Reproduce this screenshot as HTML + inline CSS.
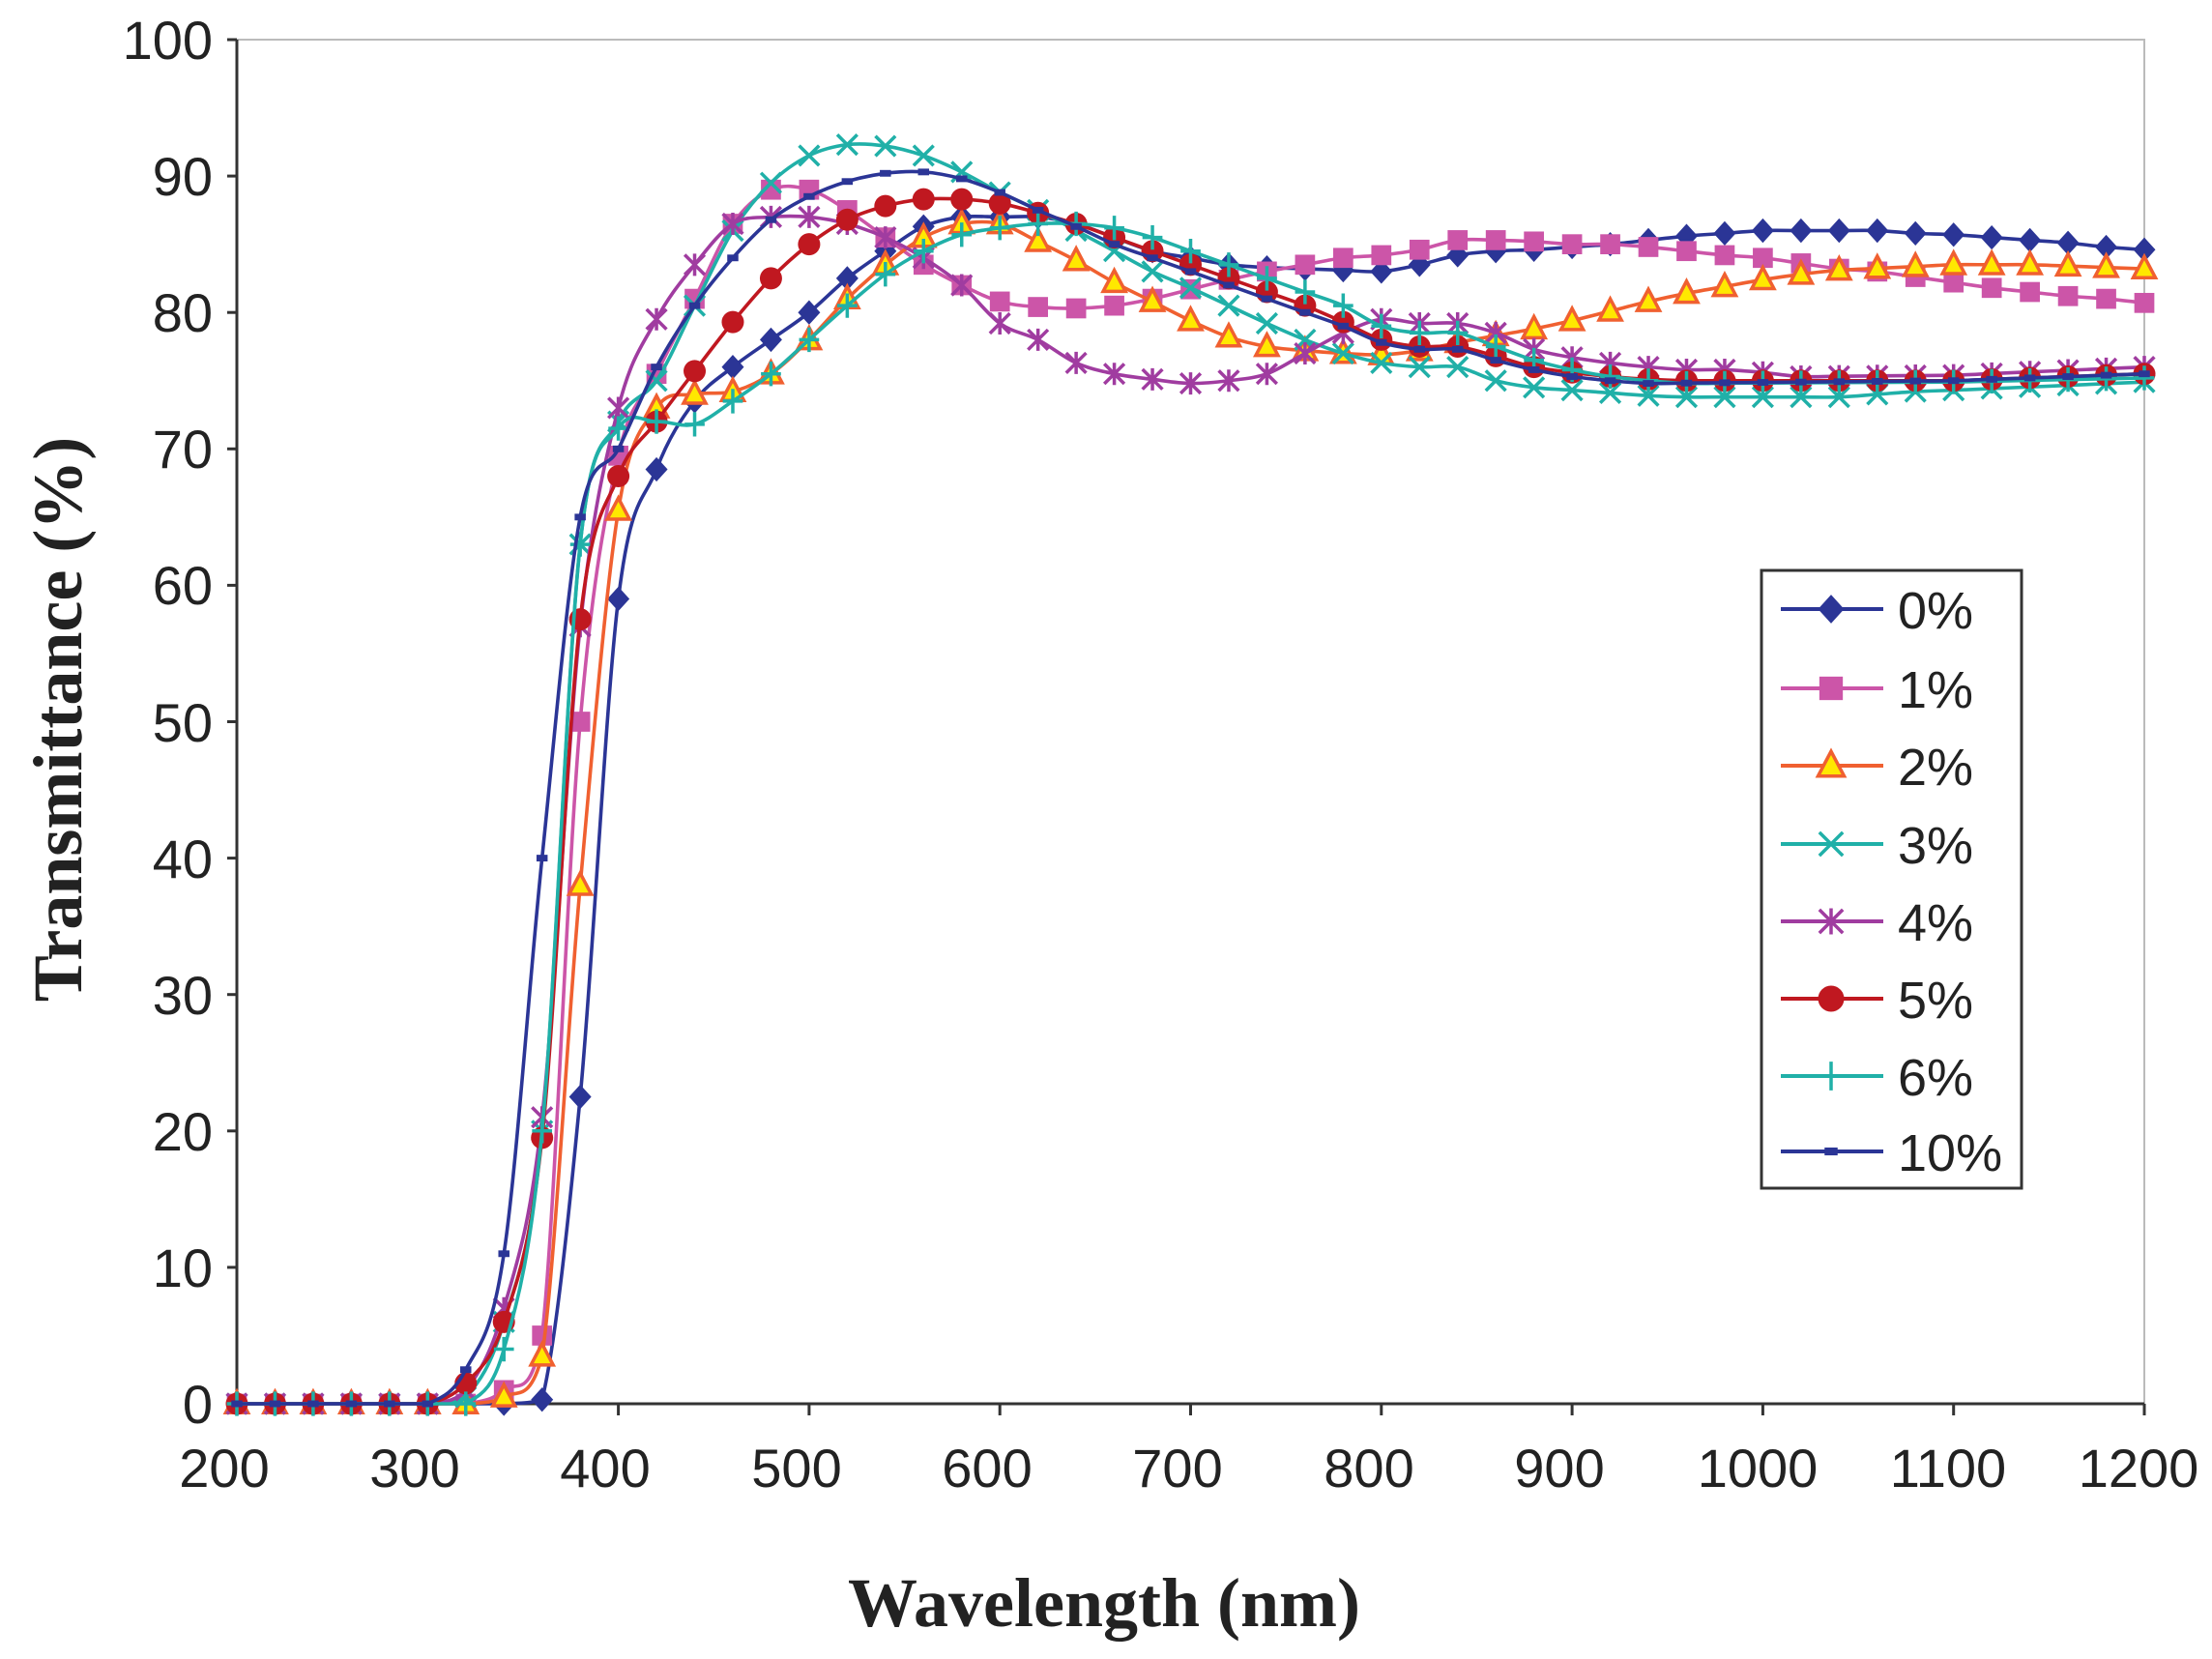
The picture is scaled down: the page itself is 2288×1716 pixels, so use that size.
<!DOCTYPE html>
<html><head><meta charset="utf-8"><style>
html,body{margin:0;padding:0;background:#fff;}
svg{display:block;}
.t{font-family:"Liberation Sans",sans-serif;font-size:56px;fill:#222;}
.ti{font-family:"Liberation Serif",serif;font-weight:bold;font-size:72px;fill:#222;}
</style></head><body>
<svg id="s" width="2288" height="1716" viewBox="0 0 2288 1716" xmlns="http://www.w3.org/2000/svg">
<rect x="0" y="0" width="2288" height="1716" fill="#fff"/>
<rect x="245" y="41" width="1973" height="1411" fill="none" stroke="#bbb" stroke-width="2"/>
<line x1="245" y1="41" x2="245" y2="1452" stroke="#333" stroke-width="3"/>
<line x1="245" y1="1452" x2="2218" y2="1452" stroke="#333" stroke-width="3"/>
<g id="ticks"></g>
<g class="t" text-anchor="end">
<text x="220" y="1472">0</text><text x="220" y="1331">10</text><text x="220" y="1190">20</text><text x="220" y="1049">30</text><text x="220" y="908">40</text><text x="220" y="767">50</text><text x="220" y="625">60</text><text x="220" y="484">70</text><text x="220" y="343">80</text><text x="220" y="202">90</text><text x="220" y="61">100</text>
</g>
<g class="t" text-anchor="middle">
<text x="232" y="1538">200</text><text x="429" y="1538">300</text><text x="626" y="1538">400</text><text x="824" y="1538">500</text><text x="1021" y="1538">600</text><text x="1218" y="1538">700</text><text x="1416" y="1538">800</text><text x="1613" y="1538">900</text><text x="1818" y="1538">1000</text><text x="2015" y="1538">1100</text><text x="2212" y="1538">1200</text>
</g>
<text class="ti" x="1142" y="1682" text-anchor="middle">Wavelength (nm)</text>
<text class="ti" x="84" y="744" text-anchor="middle" transform="rotate(-90 84 744)">Transmittance (%)</text>
<g id="series"></g>
<rect x="1822" y="590" width="269" height="639" fill="#fff" stroke="#333" stroke-width="3"/>
<g id="leg"></g>
<g class="t" style="font-size:54px">
<text x="1963" y="650">0%</text><text x="1963" y="732">1%</text><text x="1963" y="812">2%</text><text x="1963" y="893">3%</text><text x="1963" y="973">4%</text><text x="1963" y="1053">5%</text><text x="1963" y="1133">6%</text><text x="1963" y="1211">10%</text>
</g>
</svg>
<script>
const NS="http://www.w3.org/2000/svg";
const X=n=>245+(n-200)*1.973, Y=v=>1452-v*14.11;
function el(p,t,a){const e=document.createElementNS(NS,t);for(const k in a)e.setAttribute(k,a[k]);p.appendChild(e);return e;}
const tk=document.getElementById('ticks');
for(let v=0;v<=100;v+=10)el(tk,'line',{x1:235,x2:245,y1:Y(v),y2:Y(v),stroke:'#333','stroke-width':3});
for(let n=200;n<=1200;n+=100)el(tk,'line',{x1:X(n),x2:X(n),y1:1452,y2:1464,stroke:'#333','stroke-width':3});
function fill(k){const ks=Object.keys(k).map(Number).sort((a,b)=>a-b);const out=[];
for(let n=200;n<=1200;n+=20){let v;if(n<=ks[0])v=n<ks[0]?0:k[ks[0]];else if(n>=ks[ks.length-1])v=k[ks[ks.length-1]];
else{for(let i=0;i<ks.length-1;i++)if(n>=ks[i]&&n<=ks[i+1]){const t=(n-ks[i])/(ks[i+1]-ks[i]);v=k[ks[i]]*(1-t)+k[ks[i+1]]*t;break;}}
out.push([X(n),Y(v)]);}return out;}
const S=[
{c:'#2b3596',m:'dia',d:{300:0,320:0,340:0,360:0.3,380:22.5,400:59,420:68.5,440:73.5,460:76,480:78,500:80,520:82.5,540:84.5,560:86.3,580:87,600:87,620:87,640:86.5,660:85.5,680:84.5,700:84,720:83.5,740:83.3,760:83.2,780:83.1,800:83,820:83.5,840:84.2,860:84.5,880:84.6,900:84.8,920:85,940:85.3,960:85.6,980:85.8,1000:86,1060:86,1080:85.8,1100:85.7,1120:85.5,1140:85.3,1160:85.1,1180:84.8,1200:84.6}},
{c:'#cc55a8',m:'sq',d:{320:0,340:1,360:5,380:50,400:69.5,420:75.5,440:81,460:86.5,480:89,500:89,520:87.5,540:85.5,560:83.5,580:82,600:80.8,620:80.4,640:80.3,660:80.5,680:81,700:81.7,720:82.4,740:83,760:83.5,780:84,800:84.2,820:84.6,840:85.3,860:85.3,880:85.2,900:85,920:85,940:84.8,960:84.5,980:84.2,1000:84,1020:83.6,1040:83.2,1060:83,1080:82.6,1100:82.2,1120:81.8,1140:81.5,1160:81.2,1180:81,1200:80.7}},
{c:'#f06030',m:'tri',d:{320:0,340:0.5,360:3.5,380:38,400:65.5,420:73,440:74,460:74.2,480:75.5,500:78,520:81,540:83.5,560:85.5,580:86.5,600:86.5,620:85.2,640:83.8,660:82.2,680:80.8,700:79.4,720:78.2,740:77.5,760:77.2,780:77,800:76.9,820:77.2,840:77.8,860:78.3,880:78.8,900:79.4,920:80.1,940:80.8,960:81.4,980:81.9,1000:82.4,1020:82.8,1040:83.1,1100:83.5,1140:83.5,1200:83.2}},
{c:'#20b0a8',m:'x',d:{300:0,320:0.5,340:6,360:20,380:63,400:72,420:75,440:80.5,460:86,480:89.5,500:91.5,520:92.3,540:92.2,560:91.5,580:90.3,600:88.8,620:87.5,640:86,660:84.5,680:83,700:81.8,720:80.5,740:79.2,760:78,780:77,800:76.3,820:76,840:76,860:75,880:74.5,900:74.3,920:74.1,940:73.9,960:73.8,1040:73.8,1060:74,1080:74.2,1100:74.3,1200:74.9}},
{c:'#a03ca0',m:'star',d:{300:0,320:1,340:7,360:21,380:57,400:73,420:79.5,440:83.5,460:86.5,480:87,500:87,520:86.5,540:85.5,560:84,580:82,600:79.2,620:78,640:76.3,660:75.5,680:75.1,700:74.8,720:75,740:75.5,760:77,780:78.5,800:79.5,820:79.2,840:79.2,860:78.5,880:77.3,900:76.7,920:76.3,940:76,960:75.8,980:75.8,1000:75.6,1020:75.3,1100:75.4,1200:76}},
{c:'#c01820',m:'circ',d:{300:0,320:1.5,340:6,360:19.5,380:57.5,400:68,420:72,440:75.7,460:79.3,480:82.5,500:85,520:86.8,540:87.8,560:88.3,580:88.3,600:88,620:87.3,640:86.5,660:85.5,680:84.5,700:83.5,720:82.5,740:81.5,760:80.5,780:79.3,800:78,820:77.5,840:77.5,860:76.8,880:76,900:75.6,920:75.3,940:75.1,960:75,1100:75,1200:75.5}},
{c:'#20b0a8',m:'plus',d:{320:0,340:4,360:20,380:63,400:71.5,420:72,440:71.8,460:73.5,480:75.5,500:78,520:80.5,540:82.8,560:84.5,580:85.7,600:86.2,620:86.5,640:86.5,660:86.2,680:85.5,700:84.5,720:83.5,740:82.5,760:81.5,780:80.5,800:79,820:78.5,840:78.5,860:77.5,880:76.5,900:75.8,920:75.3,940:75,960:74.8,1100:74.9,1200:75.2}},
{c:'#2b3596',m:'dash',d:{300:0,320:2.5,340:11,360:40,380:65,400:70,420:76,440:80.5,460:84,480:86.8,500:88.5,520:89.6,540:90.2,560:90.3,580:89.8,600:88.8,620:87.5,640:86.3,660:85,680:84,700:83,720:82,740:81,760:80,780:79,800:77.8,820:77.3,840:77.3,860:76.5,880:75.8,900:75.3,920:75,940:74.8,1100:75,1200:75.5}}
];
const B=1452;
function path(p){let d=`M${p[0][0]},${p[0][1]}`;for(let i=0;i<p.length-1;i++){const a=p[Math.max(0,i-1)],b=p[i],c=p[i+1],e=p[Math.min(p.length-1,i+2)];
const y1=Math.min(B,b[1]+(c[1]-a[1])/6),y2=Math.min(B,c[1]-(e[1]-b[1])/6);
d+=` C${b[0]+(c[0]-a[0])/6},${y1} ${c[0]-(e[0]-b[0])/6},${y2} ${c[0]},${c[1]}`;}return d;}
function mark(g,m,x,y,c,s){s=s||1;
if(m=='dia')el(g,'polygon',{points:`${x},${y-11*s} ${x+10*s},${y} ${x},${y+11*s} ${x-10*s},${y}`,fill:c});
else if(m=='sq')el(g,'rect',{x:x-9*s,y:y-9*s,width:18*s,height:18*s,fill:c});
else if(m=='tri')el(g,'polygon',{points:`${x},${y-11*s} ${x+10*s},${y+8*s} ${x-10*s},${y+8*s}`,fill:'#ffe800',stroke:c,'stroke-width':3.5});
else if(m=='x'){el(g,'path',{d:`M${x-9*s},${y-9*s}L${x+9*s},${y+9*s}M${x+9*s},${y-9*s}L${x-9*s},${y+9*s}`,stroke:c,'stroke-width':3.5});}
else if(m=='star'){el(g,'path',{d:`M${x-9*s},${y-9*s}L${x+9*s},${y+9*s}M${x+9*s},${y-9*s}L${x-9*s},${y+9*s}M${x},${y-10*s}L${x},${y+10*s}`,stroke:c,'stroke-width':3.5});}
else if(m=='circ')el(g,'circle',{cx:x,cy:y,r:10*s,fill:c});
else if(m=='plus')el(g,'path',{d:`M${x-9*s},${y}L${x+9*s},${y}M${x},${y-11*s}L${x},${y+11*s}`,stroke:c,'stroke-width':3.5});
else if(m=='dash')el(g,'rect',{x:x-5*s,y:y-3*s,width:10*s,height:6*s,fill:c});}
const sg=document.getElementById('series'),lg=document.getElementById('leg');
const ly=[630,712,792,873,953,1033,1113,1191];
S.forEach((s,i)=>{const p=fill(s.d);el(sg,'path',{d:path(p),fill:'none',stroke:s.c,'stroke-width':3.6});
p.forEach(q=>mark(sg,s.m,q[0],q[1],s.c,1.15));
el(lg,'line',{x1:1842,x2:1948,y1:ly[i],y2:ly[i],stroke:s.c,'stroke-width':4});mark(lg,s.m,1894,ly[i],s.c,1.35);});
</script>
</body></html>
